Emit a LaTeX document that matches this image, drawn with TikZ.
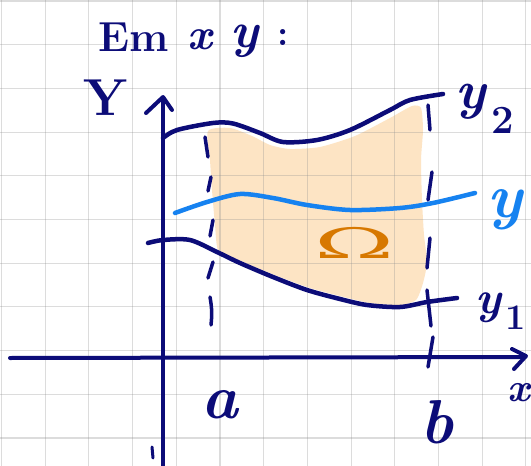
\documentclass[tikz,border=0pt]{standalone}
\usepackage{fontspec}
\newfontfamily\dvserif{DejaVu Serif}
\begin{document}
\begin{tikzpicture}[x=1pt,y=-1pt,line cap=round,line join=round]
\definecolor{navy}{RGB}{12,12,120}
\definecolor{skyb}{RGB}{22,130,240}
\definecolor{orng}{RGB}{215,120,0}
\definecolor{peach}{RGB}{253,228,196}
\tikzset{
  gridline/.style={black!45,opacity=0.3,line width=1.1pt},
  axisline/.style={navy,line width=4pt},
  curveline/.style={navy,line width=4.5pt},
  dashseg/.style={navy,line width=3.5pt},
  hand/.style={navy,inner sep=0pt},
}
\useasboundingbox (0,0) rectangle (531,466);
\fill[white] (0,0) rectangle (531,466);
% region Omega
\fill[peach] plot[smooth cycle,tension=0.4] coordinates {
 (208,131) (230,128) (252,136) (270,145) (290,149) (320,147) (355,136)
 (390,118) (412,106) (421,108) (423,130) (421,160) (422,200) (424,235)
 (427,262) (423,283) (416,300) (400,305) (370,303) (340,296) (310,288)
 (280,277) (255,267) (232,257) (218,250) (215,225) (212,190) (210,160)};
% grid
\foreach \i in {0,...,12} \draw[gridline] (1.5+43.7*\i,0) -- (1.5+43.7*\i,466);
\foreach \j in {0,...,10} \draw[gridline] (0,1+43.7*\j) -- (531,1+43.7*\j);
% axes
\draw[axisline] (163,466) -- (163,98);
\draw[axisline] (146,113) -- (163,97) -- (172,110);
\draw[axisline] (10,358) -- (525,357);
\draw[axisline] (512,349) -- (526,356) -- (514,369);
\draw[navy,line width=3pt] (152,447) -- (153,458);
% curves
\draw[curveline] plot[smooth] coordinates {(163,138) (177,130) (213,123) (233,123.5) (260,133) (283,142) (317,140) (350,130) (390,110) (410,100) (443,94)};
\draw[curveline] plot[smooth] coordinates {(148,243) (163,240) (190,240) (217,252) (240,263) (273,277) (307,290) (340,299) (367,305) (400,307) (427,302) (457,298)};
\draw[skyb,line width=4.5pt] plot[smooth] coordinates {(175,213) (207,202) (240,194) (273,198) (307,205) (350,210) (400,208) (433,203) (475,193)};
% dashed verticals a and b
\draw[dashseg] (205,137) -- (208,157);
\draw[dashseg] (211,177) -- (208,191);
\draw[dashseg] (213,220) -- (210,236);
\draw[dashseg] (213,262) -- (208,278);
\draw[dashseg] (210,297) to[bend left=8] (211,325);
\draw[dashseg] (428,105) -- (430,130);
\draw[dashseg] (432,172) -- (428,200);
\draw[dashseg] (430,238) -- (427,268);
\draw[dashseg] (427,290) -- (431,326);
\draw[dashseg] (433,337) -- (428,367);
% labels
\node[hand,font=\bfseries\fontsize{42}{42}\selectfont] (em) at (134,37) {Em};
\node[hand,font=\bfseries\itshape\fontsize{44}{44}\selectfont] (lx) at (200,40) {x};
\node[hand,font=\bfseries\itshape\fontsize{50}{50}\selectfont] (ly) at (245,41) {y};
\node[hand,font=\bfseries\fontsize{36}{36}\selectfont] (colon) at (283,38) {:};
\node[hand,font=\bfseries\fontsize{52}{52}\selectfont] (ylab) at (106,98) {Y};
\node[hand,font=\bfseries\itshape\fontsize{54}{54}\selectfont] (y2) at (471,102) {y};
\node[hand,font=\bfseries\fontsize{40}{40}\selectfont] (y2s) at (503,120) {2};
\node[hand,font=\bfseries\itshape\fontsize{46}{46}\selectfont] (y1) at (488,308) {y};
\node[hand,font=\bfseries\fontsize{36}{36}\selectfont] (y1s) at (516,318) {1};
\node[hand,text=skyb,font=\bfseries\itshape\fontsize{62}{62}\selectfont] (yb) at (505,210) {y};
\node[hand,text=orng,xscale=2.3,font=\dvserif\fontsize{42}{42}\selectfont] (om) at (355,243) {Ω};
\node[hand,font=\bfseries\itshape\fontsize{62}{62}\selectfont] (la) at (220,405) {a};
\node[hand,font=\bfseries\itshape\fontsize{62}{62}\selectfont] (lb) at (437,422) {b};
\node[hand,font=\bfseries\itshape\fontsize{40}{40}\selectfont,anchor=east] (lxa) at (530,393) {x};
\end{tikzpicture}
\end{document}
